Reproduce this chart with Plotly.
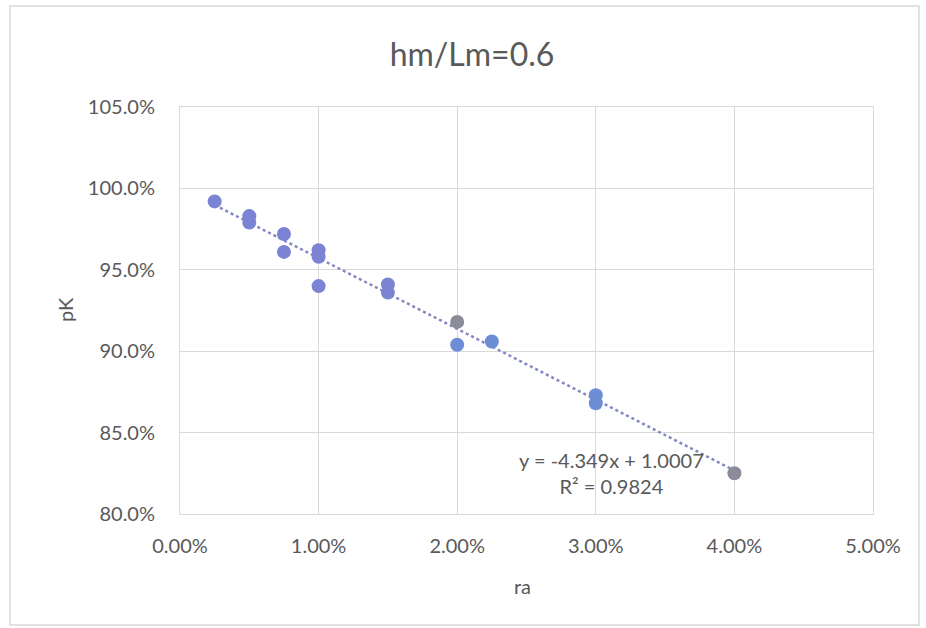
import plotly.graph_objects as go

# ---- data (fractions) ----
purple_x = [0.0025, 0.005, 0.005, 0.0075, 0.0075, 0.010, 0.010, 0.010, 0.015, 0.015]
purple_y = [0.992, 0.983, 0.979, 0.972, 0.961, 0.962, 0.958, 0.940, 0.941, 0.936]
blue_x = [0.020, 0.0225, 0.030, 0.030]
blue_y = [0.904, 0.906, 0.873, 0.868]
gray_x = [0.020, 0.040]
gray_y = [0.918, 0.825]

slope = -4.349
intercept = 1.0007
r2 = 0.9824
trend_x = [0.0025, 0.040]
trend_y = [slope * v + intercept for v in trend_x]

title_text = "hm/Lm=0.6"
x_title = "ra"
y_title = "pK"

FONT = "Lato, Open Sans, sans-serif"
TXT = "#595959"
GRID = "#d9d9d9"

W, H = 926, 628
L, R, T, B = 180, 53, 107, 114

fig = go.Figure()
fig.add_trace(go.Scatter(x=trend_x, y=trend_y, mode="lines",
                         line=dict(color="#8288c0", width=2.5, dash="dot"),
                         showlegend=False, hoverinfo="skip"))
fig.add_trace(go.Scatter(x=purple_x, y=purple_y, mode="markers",
                         marker=dict(size=14, color="#7b83d4"), showlegend=False))
fig.add_trace(go.Scatter(x=blue_x, y=blue_y, mode="markers",
                         marker=dict(size=14, color="#6d8ed6"), showlegend=False))
fig.add_trace(go.Scatter(x=gray_x, y=gray_y, mode="markers",
                         marker=dict(size=14, color="#8b8b99"), showlegend=False))

pw = W - L - R
ph = H - T - B

def px_x(v):
    return (v - L) / pw

def px_y(v):
    return (H - B - v) / ph

fig.add_annotation(x=px_x(611), y=px_y(473), xref="paper", yref="paper",
                   xanchor="center", yanchor="middle",
                   text=f"y = {slope}x + {intercept}<br>R² = {r2}",
                   showarrow=False, align="center",
                   font=dict(family=FONT, size=20, color=TXT))

fig.add_annotation(x=px_x(65), y=px_y(310), xref="paper", yref="paper",
                   xanchor="center", yanchor="middle",
                   text=y_title, textangle=-90, showarrow=False,
                   font=dict(family=FONT, size=20, color=TXT))
fig.add_annotation(x=px_x(522), y=px_y(586), xref="paper", yref="paper",
                   xanchor="center", yanchor="middle",
                   text=x_title, showarrow=False,
                   font=dict(family=FONT, size=20, color=TXT))

# outer chart border
fig.add_shape(type="rect", xref="paper", yref="paper",
              x0=px_x(10), x1=px_x(919), y0=px_y(625), y1=px_y(6),
              line=dict(color="#d9d9d9", width=1.5), layer="below")

fig.update_layout(
    width=W, height=H,
    margin=dict(l=L, r=R, t=T, b=B),
    paper_bgcolor="white", plot_bgcolor="white",
    title=dict(text=title_text, x=472 / W, xanchor="center",
               y=1 - 55 / H, yanchor="middle",
               font=dict(family=FONT, size=32, color=TXT)),
    xaxis=dict(range=[0, 0.05], dtick=0.01, tickformat=".2%",
               showgrid=True, gridcolor=GRID, gridwidth=1,
               showline=True, linecolor=GRID, mirror=True, zeroline=False,
               ticks="", ticklabelstandoff=14,
               tickfont=dict(family=FONT, size=20, color=TXT)),
    yaxis=dict(range=[0.80, 1.05], dtick=0.05, tickformat=".1%",
               showgrid=True, gridcolor=GRID, gridwidth=1,
               showline=True, linecolor=GRID, mirror=True, zeroline=False,
               ticks="", ticklabelstandoff=20,
               tickfont=dict(family=FONT, size=20, color=TXT)),
)

fig.write_html("out.html", config={"displayModeBar": False},
               post_script="document.body.style.margin='0';")
